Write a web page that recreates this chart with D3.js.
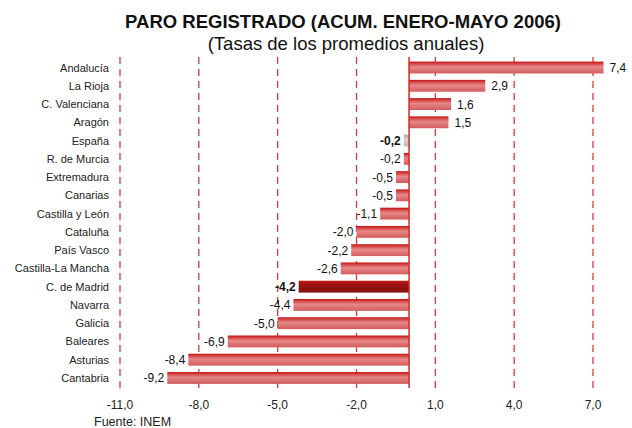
<!DOCTYPE html>
<html>
<head>
<meta charset="utf-8">
<script src="https://cdn.jsdelivr.net/npm/d3@7"></script>
<style>
  body { margin: 0; background: #fff; }
  text { font-family: "Liberation Sans", Arial, sans-serif; }
</style>
</head>
<body>
<div id="chart"></div>
<script>
var width = 632
var height = 428

// data
var regions = ["Andalucía", "La Rioja", "C. Valenciana", "Aragón", "España", "R. de Murcia",
  "Extremadura", "Canarias", "Castilla y León", "Cataluña", "País Vasco", "Castilla-La Mancha",
  "C. de Madrid", "Navarra", "Galicia", "Baleares", "Asturias", "Cantabria"]
var tasas = [7.4, 2.9, 1.6, 1.5, -0.2, -0.2, -0.5, -0.5, -1.1, -2.0, -2.2, -2.6, -4.2, -4.4, -5.0, -6.9, -8.4, -9.2]
var xTicks = [-11, -8, -5, -2, 1, 4, 7]
var highlight = { "España": "grey", "C. de Madrid": "dark" }

var data = regions.map((r, i) => ({ region: r, value: tasas[i] }))

var svg = d3.select("#chart")
  .append("svg")
  .attr("width", width)
  .attr("height", height)

// gradients for the bars
var defs = svg.append("defs")
function grad(id, stops) {
  var g = defs.append("linearGradient")
    .attr("id", id)
    .attr("x1", 0).attr("x2", 0).attr("y1", 0).attr("y2", 1)
  stops.forEach(s => g.append("stop").attr("offset", s[0]).attr("stop-color", s[1]))
}
grad("g-red", [["0%", "#c41010"], ["18%", "#d44848"], ["45%", "#e68888"], ["100%", "#d25c5c"]])
grad("g-dark", [["0%", "#c41818"], ["30%", "#9c1212"], ["100%", "#861010"]])
grad("g-grey", [["0%", "#a8a8a8"], ["40%", "#d4d4d4"], ["100%", "#bcbcbc"]])

var xScale = d3.scaleLinear()
  .domain([-11, 7])
  .range([120, 593])

var yScale = d3.scaleBand()
  .domain(regions)
  .range([58.4, 387.1])
  .paddingInner(0.35)
  .paddingOuter(0.175)

var plotTop = 57, plotBottom = 388

// title
svg.append("text")
  .attr("x", 343)
  .attr("y", 27.5)
  .attr("text-anchor", "middle")
  .style("font-size", "18.5px")
  .style("font-weight", "bold")
  .style("fill", "#111")
  .text("PARO REGISTRADO (ACUM. ENERO-MAYO 2006)")

svg.append("text")
  .attr("x", 346)
  .attr("y", 50)
  .attr("text-anchor", "middle")
  .style("font-size", "18.5px")
  .style("fill", "#111")
  .text("(Tasas de los promedios anuales)")

// dashed grid
svg.append("g")
  .attr("class", "grid")
  .selectAll("line")
  .data(xTicks)
  .enter()
  .append("line")
  .attr("x1", d => xScale(d))
  .attr("x2", d => xScale(d))
  .attr("y1", plotTop)
  .attr("y2", plotBottom)
  .style("stroke", "#d43c3c")
  .style("stroke-width", 1.3)
  .style("stroke-dasharray", "7,5")

// x tick labels
svg.append("g")
  .selectAll("text")
  .data(xTicks)
  .enter()
  .append("text")
  .attr("x", d => xScale(d))
  .attr("y", 409)
  .attr("text-anchor", "middle")
  .style("font-size", "12px")
  .style("fill", "#222")
  .text(d => d3.format(".1f")(d).replace(".", ",").replace("−", "-"))

// bars
svg.append("g")
  .selectAll("rect")
  .data(data)
  .enter()
  .append("rect")
  .attr("x", d => xScale(Math.min(0, d.value)))
  .attr("y", d => yScale(d.region))
  .attr("width", d => Math.abs(xScale(d.value) - xScale(0)))
  .attr("height", yScale.bandwidth())
  .style("fill", d => highlight[d.region] == "grey" ? "url(#g-grey)" : highlight[d.region] == "dark" ? "url(#g-dark)" : "url(#g-red)")

// zero line
svg.append("line")
  .attr("x1", xScale(0))
  .attr("x2", xScale(0))
  .attr("y1", plotTop)
  .attr("y2", plotBottom)
  .style("stroke", "#d42828")
  .style("stroke-width", 1.5)

// category labels
svg.append("g")
  .selectAll("text")
  .data(data)
  .enter()
  .append("text")
  .attr("x", 109)
  .attr("y", d => yScale(d.region) + yScale.bandwidth() / 2 + 4)
  .attr("text-anchor", "end")
  .style("font-size", "11px")
  .style("fill", "#222")
  .text(d => d.region)

// value labels
svg.append("g")
  .selectAll("text")
  .data(data)
  .enter()
  .append("text")
  .attr("x", d => d.value >= 0 ? xScale(d.value) + 6 : xScale(d.value) - 3)
  .attr("y", d => yScale(d.region) + yScale.bandwidth() / 2 + 4.5)
  .attr("text-anchor", d => d.value >= 0 ? "start" : "end")
  .style("font-size", "12px")
  .style("font-weight", d => highlight[d.region] ? "bold" : "normal")
  .style("fill", "#111")
  .text(d => d3.format(".1f")(d.value).replace(".", ",").replace("−", "-"))

// source
svg.append("text")
  .attr("x", 94)
  .attr("y", 425.5)
  .style("font-size", "12.5px")
  .style("fill", "#222")
  .text("Fuente: INEM")
</script>
</body>
</html>
